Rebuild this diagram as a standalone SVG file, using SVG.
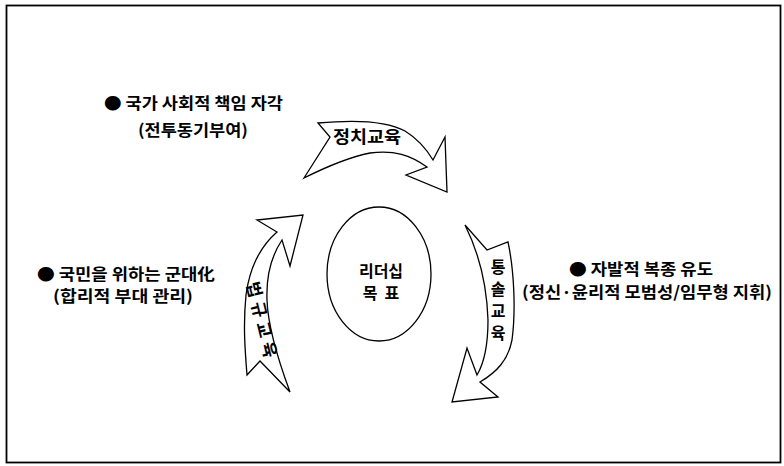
<svg xmlns="http://www.w3.org/2000/svg" width="784" height="466" viewBox="0 0 784 466">
<style>
.t{font-family:"Noto Sans CJK KR","Noto Sans",sans-serif;font-weight:700;fill:#000;font-size:16px}
.arr{fill:#fff;stroke:#000;stroke-width:1.3;stroke-linejoin:miter}
</style>
<rect x="0" y="0" width="784" height="466" fill="#fff"/>
<rect x="6.5" y="5.5" width="774" height="457" fill="none" stroke="#000" stroke-width="1.8"/>
<g id="connectors">
<path id="arrow-top" class="arr" d="M318,123 C350,120 385,120 405,131 C418,139 427,150 433,160 L445,137 L447,192 L406,175 L427,167 C410,155 395,150 370,153 C345,158 320,170 304,178 L330,137 Z"/>
<path id="arrow-right" class="arr" d="M465,225 L487,250 L508,242 C514,270 516,310 512,340 C508,360 497,372 480,382 L498,397 L452,402 L467,348 L477,375 C486,360 488,340 488,320 C487,290 480,255 465,225 Z"/>
<path id="arrow-left" class="arr" d="M247,375 L260,361 L290,392 C280,365 268,330 267,300 C266,275 272,255 282,240 L290,266 L303,215 L257,220 L277,232 C262,245 250,265 246,295 C243,325 245,350 247,375 Z"/>
</g>
<g id="label-top" class="t"><text x="367" y="143" text-anchor="middle" font-size="17" textLength="68" lengthAdjust="spacingAndGlyphs">정치교육</text></g>
<g id="label-right" class="t" text-anchor="middle" font-size="17">
<text x="498" y="273">통</text><text x="498" y="295">솔</text><text x="498" y="317">교</text><text x="498" y="339">육</text>
</g>
<g id="label-left" class="t"><text transform="translate(262,322) rotate(76)" text-anchor="middle" y="6" font-size="17" letter-spacing="5">법규교육</text></g>
<g id="center">
<ellipse cx="379" cy="274" rx="52" ry="67" fill="#fff" stroke="#000" stroke-width="1.3"/>
<text class="t" x="381" y="277" text-anchor="middle" font-size="14">리더십</text>
<text class="t" x="381" y="299" text-anchor="middle" font-size="14" xml:space="preserve">목  표</text>
</g>
<g id="note-top" class="t">
<text x="104" y="109" textLength="179" lengthAdjust="spacingAndGlyphs">● 국가 사회적 책임 자각</text>
<text x="138" y="136" textLength="110" lengthAdjust="spacingAndGlyphs">(전투동기부여)</text>
</g>
<g id="note-left" class="t">
<text x="37" y="280" textLength="178" lengthAdjust="spacingAndGlyphs">● 국민을 위하는 군대化</text>
<text x="53" y="302" textLength="140" lengthAdjust="spacingAndGlyphs">(합리적 부대 관리)</text>
</g>
<g id="note-right" class="t">
<text x="569" y="275" textLength="144" lengthAdjust="spacingAndGlyphs">● 자발적 복종 유도</text>
<text x="522" y="298" textLength="250" lengthAdjust="spacingAndGlyphs">(정신·윤리적 모범성/임무형 지휘)</text>
</g>
</svg>
